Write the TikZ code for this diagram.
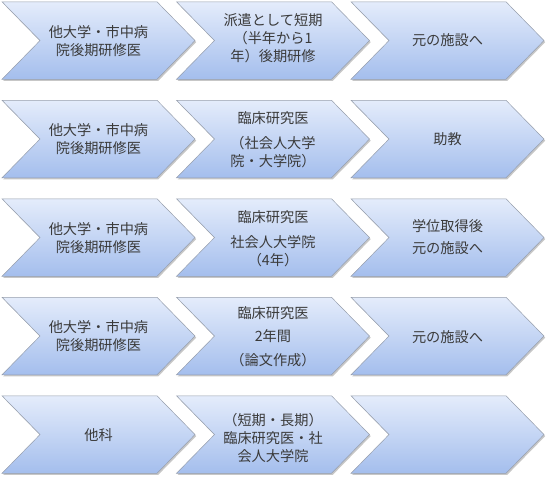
\documentclass[tikz,border=0pt]{standalone}
\usepackage{fontspec}
\setmainfont{Noto Sans CJK JP}
\definecolor{chevtop}{RGB}{228,236,251}
\definecolor{chevbot}{RGB}{164,190,237}
\definecolor{chevline}{RGB}{150,158,172}
\definecolor{txt}{RGB}{58,58,58}
\tikzset{
  chev/.style={top color=chevtop, bottom color=chevbot, draw=chevline, line width=0.5pt, line join=miter},
  chevshadow/.style={fill=black!22},
  lbl/.style={text=txt, align=center, inner sep=0pt, font=\fontsize{14.2}{18}\selectfont}
}
\begin{document}
\begin{tikzpicture}[x=1pt,y=-1pt]
\useasboundingbox (0,0) rectangle (550,481);
\foreach \r in {0,...,4}{
  \foreach \c in {0,1,2}{
    \pgfmathsetmacro\xo{2+174.5*\c}
    \pgfmathsetmacro\yt{1.8+98.5*\r}
    \fill[chevshadow] (\xo+1.2,\yt+1.6) -- ++(155,0) -- ++(38,38.75) -- ++(-38,38.75) -- ++(-155,0) -- ++(38,-38.75) -- cycle;
    \path[chev] (\xo,\yt) -- ++(155,0) -- ++(38,38.75) -- ++(-38,38.75) -- ++(-155,0) -- ++(38,-38.75) -- cycle;
  }
}
% row 1
\node[lbl] (a1) at (98.5,41) {他大学・市中病\\院後期研修医};
\node[lbl] (b1) at (273,38) {派遣として短期\\（半年から1\\年）後期研修};
\node[lbl] (c1) at (447.5,40.5) {元の施設へ};
% row 2
\node[lbl] (a2) at (98.5,139.5) {他大学・市中病\\院後期研修医};
\node[lbl] (b2) at (273,139.5) {臨床研究医\\[7pt]（社会人大学\\院・大学院）};
\node[lbl] (c2) at (447.5,139) {助教};
% row 3
\node[lbl] (a3) at (98.5,238) {他大学・市中病\\院後期研修医};
\node[lbl] (b3) at (273,238.5) {臨床研究医\\[7pt]社会人大学院\\（4年）};
\node[lbl] (c3) at (447.5,237.5) {学位取得後\\[4pt]元の施設へ};
% row 4
\node[lbl] (a4) at (98.5,336.5) {他大学・市中病\\院後期研修医};
\node[lbl] (b4) at (273,336.5) {臨床研究医\\[5.5pt]2年間\\[5.5pt]（論文作成）};
\node[lbl] (c4) at (447.5,337) {元の施設へ};
% row 5
\node[lbl] (a5) at (98.5,435) {他科};
\node[lbl] (b5) at (273,438) {（短期・長期）\\臨床研究医・社\\会人大学院};
\end{tikzpicture}
\end{document}
